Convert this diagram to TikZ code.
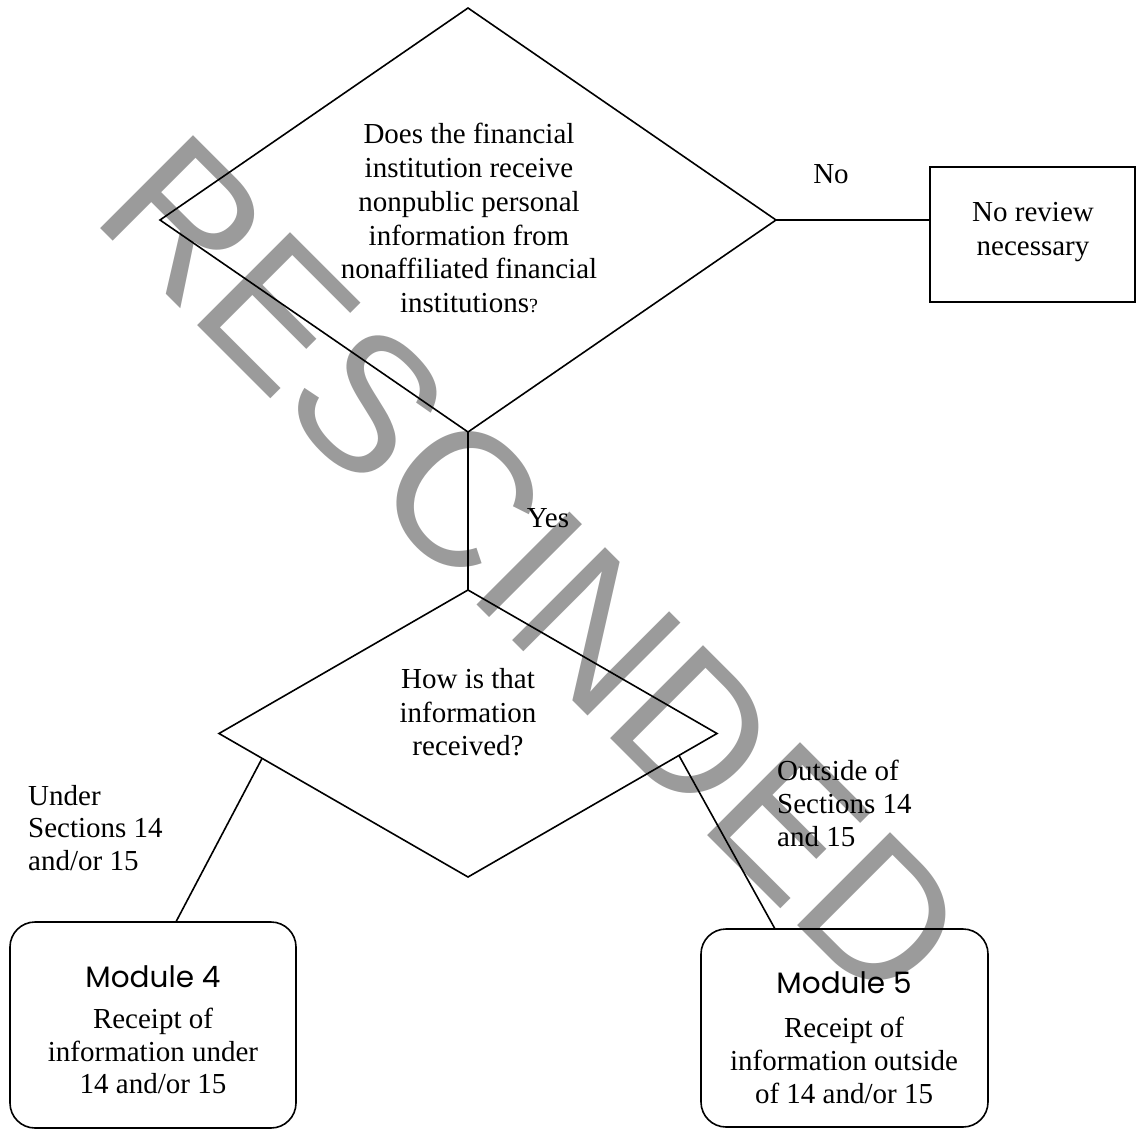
\documentclass[tikz,border=0pt]{standalone}
\usepackage{fontspec}
\setmainfont{Liberation Serif}
\newfontfamily\wmfont{Liberation Sans}
\newfontfamily\modfont{Poppins}
\usetikzlibrary{shapes.geometric,calc}
\definecolor{wmgray}{RGB}{155,155,155}
\begin{document}
\begin{tikzpicture}[x=1pt,y=-1pt,
  conn/.style={draw=black, line width=1.6pt},
  decision/.style={diamond, draw=black, line width=1.6pt, inner sep=0pt, outer sep=0pt},
  plainbox/.style={rectangle, draw=black, line width=1.6pt, inner sep=0pt, outer sep=0pt},
  modbox/.style={plainbox, rounded corners=25pt},
  txt/.style={font=\fontsize{29}{33.8}\selectfont, inner sep=0pt, align=center},
  lefttxt/.style={font=\fontsize{29}{32.5}\selectfont, inner sep=0pt, align=left},
  modtitle/.style={font=\modfont\fontsize{29.5}{32}\selectfont, inner sep=0pt},
  watermark/.style={font=\wmfont\fontsize{191}{191}\selectfont, text=wmgray, inner sep=0pt}]
\useasboundingbox (0,0) rectangle (1137,1129);
% watermark
\node[watermark, anchor=base west, rotate=-45] (wm) at (89,217) {RESCINDED};
% shapes
\node[decision, minimum width=616pt, minimum height=424pt] (d1) at (468,220) {};
\node[decision, minimum width=498pt, minimum height=287pt] (d2) at (468,733.5) {};
\node[plainbox, minimum width=205pt, minimum height=135pt] (nobox) at (1032.5,234.5) {};
\node[modbox, minimum width=286pt, minimum height=206pt] (m4) at (153,1025) {};
\node[modbox, minimum width=287pt, minimum height=198pt] (m5) at (844.5,1028) {};
% texts
\node[txt, anchor=north] (t1) at (469,123) {Does the financial\\institution receive\\nonpublic personal\\information from\\nonaffiliated financial\\institutions{\fontsize{20}{20}\selectfont ?}};
\node[txt, anchor=north] (t2) at (1033,202) {No review\\necessary};
\node[txt, anchor=north] (t3) at (468,668) {How is that\\information\\received?};
\node[txt, anchor=base] (no) at (831,183) {No};
\node[txt, anchor=base] (yes) at (548,527) {Yes};
\node[lefttxt, anchor=north west] (under) at (28,785) {Under\\Sections 14\\and/or 15};
\node[lefttxt, anchor=north west, font=\fontsize{29}{33}\selectfont] (outside) at (777,760) {Outside of\\Sections 14\\and 15};
\node[modtitle, anchor=base] (m4t) at (153,987) {Module 4};
\node[txt, anchor=north, font=\fontsize{29}{32.5}\selectfont] (m4b) at (153,1008) {Receipt of\\information under\\14 and/or 15};
\node[modtitle, anchor=base] (m5t) at (844,993) {Module 5};
\node[txt, anchor=north, font=\fontsize{29}{33}\selectfont] (m5b) at (844,1017) {Receipt of\\information outside\\of 14 and/or 15};
% connectors
\draw[conn] (d1.east) -- (d1.east -| nobox.west);
\draw[conn] (d1.south) -- (d2.north);
\draw[conn] ($(d2.west)!0.173!(d2.south)$) -- ($(m4.north west)!0.58!(m4.north east)$);
\draw[conn] ($(d2.east)!0.153!(d2.south)$) -- ($(m5.north west)!0.258!(m5.north east)$);
\end{tikzpicture}
\end{document}
